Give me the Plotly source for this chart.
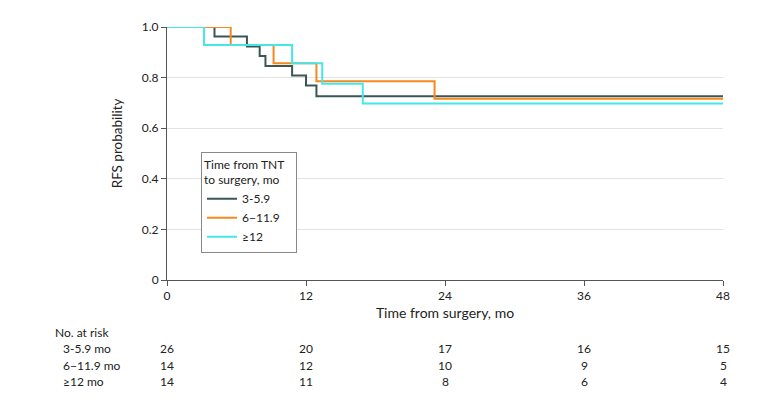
import plotly.graph_objects as go

# Data
groups = ["3-5.9", "6\u221211.9", "\u226512"]
t_a = [0, 4.1, 6.9, 8.0, 8.5, 10.8, 12.0, 12.9, 48]
s_a = [1.0, 0.962, 0.923, 0.885, 0.846, 0.808, 0.769, 0.726, 0.726]
t_b = [0, 5.5, 9.2, 12.9, 23.1, 48]
s_b = [1.0, 0.929, 0.857, 0.786, 0.716, 0.716]
t_c = [0, 3.2, 10.8, 13.4, 16.9, 48]
s_c = [1.0, 0.929, 0.857, 0.776, 0.698, 0.698]
colors = ["#3a5656", "#f5891f", "#45e6ea"]

risk_times = [0, 12, 24, 36, 48]
risk_labels = ["3-5.9 mo", "6\u221211.9 mo", "\u226512 mo"]
risk_a = [26, 20, 17, 16, 15]
risk_b = [14, 12, 10, 9, 5]
risk_c = [14, 11, 8, 6, 4]

x_ticks = [0, 12, 24, 36, 48]
y_ticks = [0, 0.2, 0.4, 0.6, 0.8, 1.0]
y_ticklabels = ["0", "0.2", "0.4", "0.6", "0.8", "1.0"]

FONT = "Lato"
fig = go.Figure()
for name, t, s, c in zip(groups, [t_a, t_b, t_c], [s_a, s_b, s_c], colors):
    fig.add_trace(go.Scatter(x=t, y=s, mode="lines", name=name,
                             line=dict(color=c, width=2, shape="hv")))

H = 261.0
def py(ypix):
    return (280 - ypix) / H

def px(xpix):
    return (xpix - 167) / 556

ann = []
ann.append(dict(text="RFS probability", x=px(117), xref="paper", y=py(139), yref="paper",
                xanchor="center", yanchor="middle", textangle=-90, showarrow=False,
                font=dict(size=13.5)))
ann.append(dict(text="No. at risk", x=px(53), xref="paper", y=py(334), yref="paper",
                xanchor="left", yanchor="middle", showarrow=False, font=dict(size=12)))
rows_y = [351, 368, 385]
for lab, vals, yy in zip(risk_labels, [risk_a, risk_b, risk_c], rows_y):
    ann.append(dict(text=lab, x=px(61), xref="paper", y=py(yy), yref="paper",
                    xanchor="left", yanchor="middle", showarrow=False, font=dict(size=12)))
    for tt, v in zip(risk_times, vals):
        ann.append(dict(text=str(v), x=tt, xref="x", y=py(yy), yref="paper",
                        xanchor="center", yanchor="middle", showarrow=False, font=dict(size=12)))

fig.update_layout(
    width=783, height=403,
    margin=dict(l=159, r=68, t=11, b=131),
    paper_bgcolor="white", plot_bgcolor="white",
    font=dict(family=FONT, size=12, color="#222222"),
    showlegend=True,
    legend=dict(title=dict(text="Time from TNT&nbsp;&nbsp;&nbsp;<br>to surgery, mo", font=dict(size=12)),
                x=px(201), y=py(148), xanchor="left", yanchor="top",
                bordercolor="#888888", borderwidth=1, bgcolor="white",
                font=dict(size=12), tracegroupgap=0),
    xaxis=dict(range=[0, 48], tickvals=x_ticks, ticks="outside", ticklen=5,
               tickcolor="#555555", showline=True, linecolor="#555555", linewidth=1,
               showgrid=False, zeroline=False, title=dict(text="Time from surgery, mo", standoff=5),
               fixedrange=True),
    yaxis=dict(range=[0, 1.0], tickvals=y_ticks, ticktext=y_ticklabels, ticks="outside",
               ticklen=5, tickcolor="#555555", showline=True, linecolor="#555555", linewidth=1,
               showgrid=True, gridcolor="#e3e3e3", gridwidth=1, zeroline=False),
    annotations=ann,
)
fig.write_html("out.html")
